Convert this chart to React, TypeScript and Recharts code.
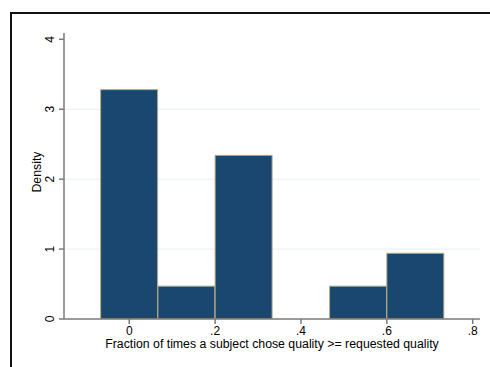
import React from 'react';
import { BarChart, Bar, XAxis, YAxis, CartesianGrid } from 'recharts';

// histogram bins (midpoints) and their densities
const binMids = [0, 2 / 15, 4 / 15, 6 / 15, 8 / 15, 10 / 15];
const densities = [3.28, 0.47, 2.34, 0, 0.47, 0.94];
const xTicks = [0, 0.2, 0.4, 0.6, 0.8];
const yTicks = [0, 1, 2, 3, 4];

const data = binMids.map((mid, i) => ({ mid, density: densities[i] }));

const fmtX = (v: number) => (v === 0 ? '0' : String(Number(v.toFixed(1))).replace(/^0/, ''));

const font = 'Arial, "Liberation Sans", sans-serif';
const tickFs = 12;
const labelFs = 12.3;

const YTick = (props: any) => {
    const { x, y, payload } = props;
    const tx = x - 3;
    return (
        <text
            x={tx}
            y={y}
            transform={`rotate(-90, ${tx}, ${y})`}
            textAnchor="middle"
            fontSize={tickFs}
            fontFamily={font}
            fill="#000"
        >
            {payload.value}
        </text>
    );
};

const XLabel = (props: any) => {
    const { viewBox } = props;
    const cx = viewBox.x + viewBox.width / 2;
    const cy = viewBox.y + 25;
    return (
        <text x={cx} y={cy} textAnchor="middle" dominantBaseline="central" fontSize={labelFs} fontFamily={font} fill="#000">
            Fraction of times a subject chose quality &gt;= requested quality
        </text>
    );
};

const YLabel = (props: any) => {
    const { viewBox } = props;
    const cx = viewBox.x + 37;
    const cy = viewBox.y + viewBox.height / 2 - 4;
    return (
        <text
            x={cx}
            y={cy}
            transform={`rotate(-90, ${cx}, ${cy})`}
            textAnchor="middle"
            dominantBaseline="central"
            fontSize={labelFs}
            fontFamily={font}
            fill="#000"
        >
            Density
        </text>
    );
};

const App: React.FC = () => {
    return (
        <div style={{ position: 'absolute', left: 0, top: 0, width: 490, height: 367, background: '#fff', overflow: 'hidden' }}>
            <div
                style={{
                    position: 'absolute',
                    left: 10,
                    top: 12,
                    width: 490,
                    height: 367,
                    borderLeft: '2px solid #111',
                    borderTop: '2px solid #111',
                }}
            />
            <BarChart
                width={490}
                height={367}
                data={data}
                margin={{ top: 33, right: 10, left: 0, bottom: 0 }}
                barCategoryGap={0}
                barGap={0}
                style={{ position: 'absolute', left: 0, top: 0 }}
            >
                <CartesianGrid vertical={false} horizontalValues={[1, 2, 3]} stroke="#e8f0f2" strokeWidth={1} />
                <XAxis
                    dataKey="mid"
                    type="number"
                    domain={[-0.152, 0.817]}
                    ticks={xTicks}
                    tickFormatter={fmtX}
                    allowDataOverflow
                    height={48}
                    stroke="#7a7a7a"
                    strokeWidth={1.5}
                    tickSize={5}
                    tick={{ fill: '#000', fontSize: tickFs, fontFamily: font }}
                    label={<XLabel />}
                />
                <YAxis
                    type="number"
                    domain={[0, 4.09]}
                    ticks={yTicks}
                    allowDataOverflow
                    width={64}
                    stroke="#7a7a7a"
                    strokeWidth={1.5}
                    tickSize={5}
                    tick={<YTick />}
                    label={<YLabel />}
                />
                <Bar dataKey="density" fill="#1a476f" stroke="#b5ab7e" strokeWidth={1} isAnimationActive={false} />
            </BarChart>
        </div>
    );
};

export default App;
